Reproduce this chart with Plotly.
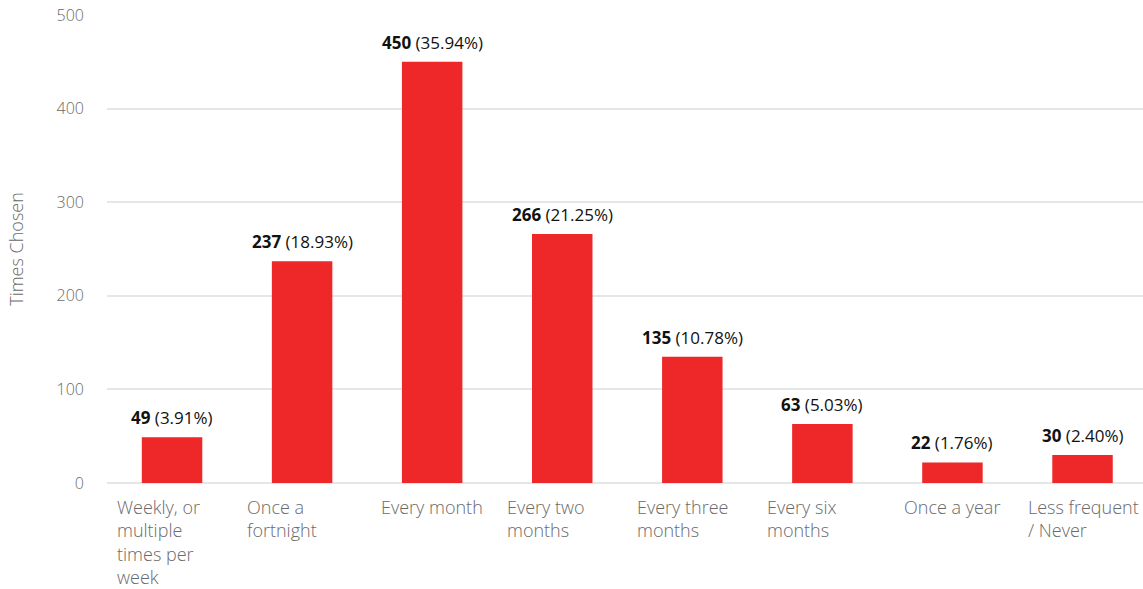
import plotly.graph_objects as go

categories = [
    "Weekly, or<br>multiple<br>times per<br>week",
    "Once a<br>fortnight",
    "Every month",
    "Every two<br>months",
    "Every three<br>months",
    "Every six<br>months",
    "Once a year",
    "Less frequent<br>/ Never",
]
counts = [49, 237, 450, 266, 135, 63, 22, 30]
percents = ["3.91%", "18.93%", "35.94%", "21.25%", "10.78%", "5.03%", "1.76%", "2.40%"]
y_ticks = [0, 100, 200, 300, 400, 500]

FONT = "Open Sans"
BAR_COLOR = "#EE2828"
GRID = "#e6e6e6"
LABEL_GREY = "#6a6a6a"

fig = go.Figure()
fig.add_trace(go.Bar(
    x=list(range(len(categories))),
    y=counts,
    marker=dict(color=BAR_COLOR, line=dict(width=0)),
    hoverinfo="skip",
))

annotations = []
# value labels above each bar
for i, (c, p) in enumerate(zip(counts, percents)):
    annotations.append(dict(
        x=i, y=c, xref="x", yref="y",
        text=f"<b>{c}</b> ({p})",
        showarrow=False, yanchor="bottom", xanchor="center",
        yshift=6,
        font=dict(family=FONT, size=17, color="#111111"),
    ))

# category labels under the axis; wrapped labels are left aligned in their slot
for i, lab in enumerate(categories):
    wrapped = "<br>" in lab
    annotations.append(dict(
        x=i, y=0, xref="x", yref="paper",
        text=lab, showarrow=False,
        yanchor="top",
        xanchor="left" if wrapped else "center",
        xshift=-57 if wrapped else 0,
        yshift=-10,
        align="left",
        font=dict(family=FONT, size=18, color=LABEL_GREY, weight=300),
    ))

fig.update_layout(
    width=1143, height=589,
    margin=dict(l=107, r=0, t=15, b=106),
    paper_bgcolor="white", plot_bgcolor="white",
    showlegend=False,
    bargap=0.535,
    font=dict(family=FONT, color=LABEL_GREY),
    xaxis=dict(
        range=[-0.5, len(categories) - 0.535],
        showticklabels=False, showgrid=False, zeroline=False,
        showline=False, ticks="",
    ),
    yaxis=dict(
        range=[0, 500],
        tickvals=y_ticks,
        showgrid=True, gridcolor=GRID, gridwidth=2,
        zeroline=True, zerolinecolor=GRID, zerolinewidth=2,
        showline=False, ticks="",
        ticklabelstandoff=22,
        tickfont=dict(family=FONT, size=16, color=LABEL_GREY, weight=300),
        title=dict(text="Times Chosen", standoff=28,
                   font=dict(family=FONT, size=18, color=LABEL_GREY, weight=300)),
    ),
    annotations=annotations,
)

fig.write_html("out.html")
